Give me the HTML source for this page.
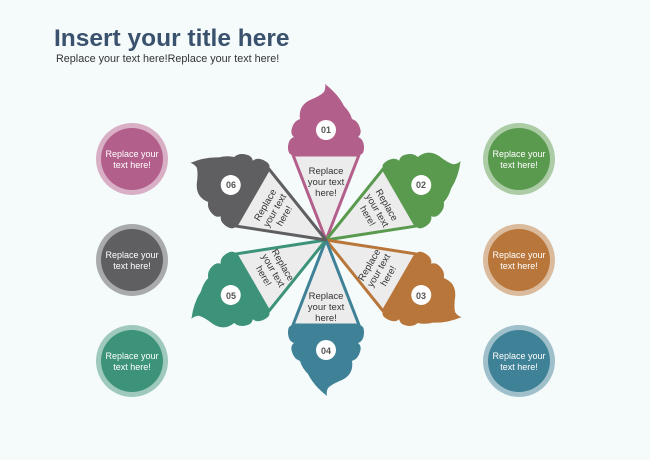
<!DOCTYPE html>
<html><head><meta charset="utf-8"><style>
body{margin:0;background:#f5fbfb;}
svg{display:block}
</style></head><body>
<svg width="650" height="460" viewBox="0 0 650 460" xmlns="http://www.w3.org/2000/svg" font-family="Liberation Sans, sans-serif">
<rect width="650" height="460" fill="#f5fbfb"/>
<text x="54" y="46" font-size="24.5" font-weight="bold" fill="#3a526d">Insert your title here</text>
<text x="56" y="62" font-size="10.8" fill="#333">Replace your text here!Replace your text here!</text>
<defs>
<path id="scoop" d="M-34,-85 Q-38,-86 -38,-92 Q-38,-101 -32,-103 Q-36,-106 -34,-112 Q-32,-119 -26,-121 Q-28,-134 -16,-140 Q-6,-144 -2,-148 Q0,-152 -1,-156 Q12,-146 18,-134 Q24,-128 26,-121 Q32,-119 34,-112 Q36,-106 32,-103 Q38,-101 38,-92 Q38,-86 34,-85 Z"/>
</defs>
<g transform="translate(326,240)">
  <g transform="rotate(0)"><use href="#scoop" fill="#b35f8b"/><path d="M0,0 L-33,-85 L33,-85 Z" fill="#ececec" stroke="#b35f8b" stroke-width="3" stroke-linejoin="round"/><circle cx="0" cy="-110" r="10" fill="#fff"/></g>
  <g transform="rotate(60)"><use href="#scoop" fill="#5a9a4f"/><path d="M0,0 L-33,-85 L33,-85 Z" fill="#ececec" stroke="#5a9a4f" stroke-width="3" stroke-linejoin="round"/><circle cx="0" cy="-110" r="10" fill="#fff"/></g>
  <g transform="rotate(120)"><use href="#scoop" fill="#b8763a"/><path d="M0,0 L-33,-85 L33,-85 Z" fill="#ececec" stroke="#b8763a" stroke-width="3" stroke-linejoin="round"/><circle cx="0" cy="-110" r="10" fill="#fff"/></g>
  <g transform="rotate(180)"><use href="#scoop" fill="#3f8197"/><path d="M0,0 L-33,-85 L33,-85 Z" fill="#ececec" stroke="#3f8197" stroke-width="3" stroke-linejoin="round"/><circle cx="0" cy="-110" r="10" fill="#fff"/></g>
  <g transform="rotate(240)"><use href="#scoop" fill="#3d937a"/><path d="M0,0 L-33,-85 L33,-85 Z" fill="#ececec" stroke="#3d937a" stroke-width="3" stroke-linejoin="round"/><circle cx="0" cy="-110" r="10" fill="#fff"/></g>
  <g transform="rotate(300)"><use href="#scoop" fill="#5f5f61"/><path d="M0,0 L-33,-85 L33,-85 Z" fill="#ececec" stroke="#5f5f61" stroke-width="3" stroke-linejoin="round"/><circle cx="0" cy="-110" r="10" fill="#fff"/></g>
</g>
<g font-size="9" font-weight="bold" fill="#555" text-anchor="middle">
  <text x="326" y="133">01</text>
  <text x="421" y="188">02</text>
  <text x="421" y="299">03</text>
  <text x="326" y="354">04</text>
  <text x="231" y="299">05</text>
  <text x="231" y="188">06</text>
</g>
<g font-size="9.5" fill="#333" text-anchor="middle">
  <g transform="translate(326,181)"><text y="-7">Replace</text><text y="4">your text</text><text y="15">here!</text></g>
  <g transform="translate(378,210) rotate(60)"><text y="-7">Replace</text><text y="4">your text</text><text y="15">here!</text></g>
  <g transform="translate(378,270) rotate(-60)"><text y="-7">Replace</text><text y="4">your text</text><text y="15">here!</text></g>
  <g transform="translate(326,306)"><text y="-7">Replace</text><text y="4">your text</text><text y="15">here!</text></g>
  <g transform="translate(274,270) rotate(60)"><text y="-7">Replace</text><text y="4">your text</text><text y="15">here!</text></g>
  <g transform="translate(274,210) rotate(-60)"><text y="-7">Replace</text><text y="4">your text</text><text y="15">here!</text></g>
</g>
<g font-size="9" fill="#fff" text-anchor="middle">
  <circle cx="132" cy="159" r="36" fill="#d9afc5"/><circle cx="132" cy="159" r="31" fill="#b35f8b"/>
  <text x="132" y="157">Replace your</text><text x="132" y="168">text here!</text>
  <circle cx="132" cy="260" r="36" fill="#a9aaac"/><circle cx="132" cy="260" r="31" fill="#5f5f61"/>
  <text x="132" y="258">Replace your</text><text x="132" y="269">text here!</text>
  <circle cx="132" cy="361" r="36" fill="#9ec9bc"/><circle cx="132" cy="361" r="31" fill="#3d937a"/>
  <text x="132" y="359">Replace your</text><text x="132" y="370">text here!</text>
  <circle cx="519" cy="159" r="36" fill="#accca6"/><circle cx="519" cy="159" r="31" fill="#5a9a4f"/>
  <text x="519" y="157">Replace your</text><text x="519" y="168">text here!</text>
  <circle cx="519" cy="260" r="36" fill="#dbbb9d"/><circle cx="519" cy="260" r="31" fill="#b8763a"/>
  <text x="519" y="258">Replace your</text><text x="519" y="269">text here!</text>
  <circle cx="519" cy="361" r="36" fill="#9fc0cb"/><circle cx="519" cy="361" r="31" fill="#3f8197"/>
  <text x="519" y="359">Replace your</text><text x="519" y="370">text here!</text>
</g>
</svg>
</body></html>
